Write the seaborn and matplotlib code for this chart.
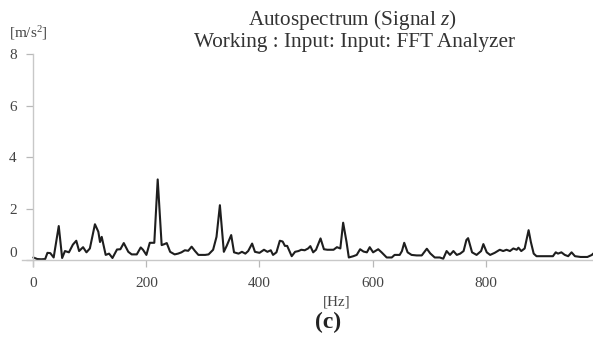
import numpy as np
import pandas as pd
import matplotlib
matplotlib.use("Agg")
import matplotlib.pyplot as plt
import matplotlib.transforms as mtransforms
import seaborn as sns

freq_hz = [0, 7, 14, 21, 25, 30, 36, 45, 51, 56, 63, 70, 76, 81, 88, 94, 100, 109, 115, 118,
           121, 128, 134, 140, 148, 154, 160, 168, 174, 183, 190, 194, 200, 206, 214, 220, 227,
           232, 236, 242, 250, 256, 262, 268, 274, 280, 286, 292, 304, 310, 318, 324, 330, 337,
           342, 350, 355, 363, 369, 375, 380, 387, 392, 400, 408, 414, 420, 424, 430, 436, 441,
           445, 449, 457, 463, 469, 474, 480, 486, 490, 495, 500, 508, 514, 520, 531, 537, 543,
           548, 554, 558, 566, 572, 578, 584, 590, 595, 601, 610, 616, 625, 634, 639, 648, 652,
           656, 662, 669, 678, 687, 696, 702, 710, 719, 725, 731, 737, 743, 749, 755, 761, 766,
           769, 776, 784, 792, 796, 802, 808, 816, 825, 831, 837, 843, 849, 855, 858, 863, 869,
           876, 880, 885, 890, 919, 924, 928, 934, 940, 946, 952, 958, 968, 980, 988, 990]
amplitude = [0.10, 0.04, 0.03, 0.04, 0.28, 0.27, 0.10, 1.32, 0.08, 0.35, 0.30, 0.60, 0.75, 0.35,
             0.50, 0.30, 0.45, 1.39, 1.10, 0.70, 0.90, 0.20, 0.25, 0.08, 0.41, 0.42, 0.66, 0.32,
             0.22, 0.22, 0.49, 0.40, 0.20, 0.67, 0.67, 3.13, 0.58, 0.62, 0.66, 0.32, 0.22, 0.25,
             0.30, 0.38, 0.36, 0.52, 0.35, 0.20, 0.20, 0.22, 0.40, 0.90, 2.13, 0.32, 0.55, 0.97,
             0.30, 0.25, 0.32, 0.25, 0.35, 0.64, 0.32, 0.28, 0.40, 0.32, 0.38, 0.20, 0.30, 0.75,
             0.72, 0.55, 0.55, 0.15, 0.32, 0.35, 0.40, 0.38, 0.45, 0.54, 0.30, 0.40, 0.84, 0.42,
             0.40, 0.40, 0.50, 0.45, 1.45, 0.70, 0.10, 0.15, 0.20, 0.42, 0.33, 0.30, 0.50, 0.30,
             0.42, 0.30, 0.10, 0.10, 0.20, 0.20, 0.35, 0.67, 0.30, 0.20, 0.18, 0.18, 0.44, 0.26,
             0.10, 0.10, 0.05, 0.35, 0.20, 0.35, 0.20, 0.25, 0.35, 0.78, 0.85, 0.30, 0.20, 0.35,
             0.62, 0.30, 0.20, 0.28, 0.40, 0.35, 0.40, 0.35, 0.45, 0.40, 0.48, 0.35, 0.45, 1.16,
             0.70, 0.25, 0.15, 0.15, 0.30, 0.25, 0.30, 0.20, 0.15, 0.30, 0.15, 0.12, 0.12, 0.20,
             0.25]
x_ticks = [0, 200, 400, 600, 800]
y_ticks = [0, 2, 4, 6, 8]

sns.set_theme(style="white")
plt.rcParams['font.family'] = ['Liberation Serif', 'DejaVu Serif']
plt.rcParams['mathtext.fontset'] = 'custom'
plt.rcParams['mathtext.rm'] = 'Liberation Serif'
plt.rcParams['mathtext.it'] = 'Liberation Serif:italic'

fig = plt.figure(figsize=(5.93, 3.37), dpi=100)
ax = fig.add_axes([0.0371, 0.2092, 0.963, 0.6306])

df = pd.DataFrame({"freq": freq_hz, "amp": amplitude})
sns.lineplot(data=df, x="freq", y="amp", ax=ax, color="#1e1e1e", linewidth=1.5)

ax.set_xlim(-20, 990)
ax.set_ylim(-0.25, 8.0)
ax.set_xticks(x_ticks)
ax.set_yticks(y_ticks)
ax.set_xlabel("")
ax.set_ylabel("")

for s in ["top", "right"]:
    ax.spines[s].set_visible(False)
ax.spines["left"].set_position(("data", 0))
ax.spines["bottom"].set_position(("data", 0))
for s in ["left", "bottom"]:
    ax.spines[s].set_color("#c8c8c8")
    ax.spines[s].set_linewidth(1.0)

ax.tick_params(axis="both", which="major", direction="out", length=5, width=0.9,
               color="#b8b8b8", labelcolor="#444444", labelsize=11, pad=7,
               left=True, bottom=True)

# nudge the "0" y tick label upward as in the reference
for lbl in ax.get_yticklabels():
    if lbl.get_text() in ("0",):
        lbl.set_transform(lbl.get_transform() + mtransforms.ScaledTranslation(0, 6 / 72, fig.dpi_scale_trans))

fig.text(352 / 593, 1 - 20 / 337, "Autospectrum (Signal $z$)", ha="center", va="center",
         fontsize=15.3, color="#333333")
fig.text(355 / 593, 1 - 42 / 337, "Working : Input: Input: FFT Analyzer", ha="center", va="center",
         fontsize=15.3, color="#333333")
fig.text(28 / 593, 1 - 33 / 337, "[m/s$^2$]", ha="center", va="center", fontsize=11, color="#444444")
fig.text(337 / 593, 1 - 302 / 337, "[Hz]", ha="center", va="center", fontsize=11, color="#444444")
fig.text(328 / 593, 1 - 322 / 337, "(c)", ha="center", va="center", fontsize=17,
         fontweight="bold", color="#222222")

fig.savefig("out.png", dpi=100)
